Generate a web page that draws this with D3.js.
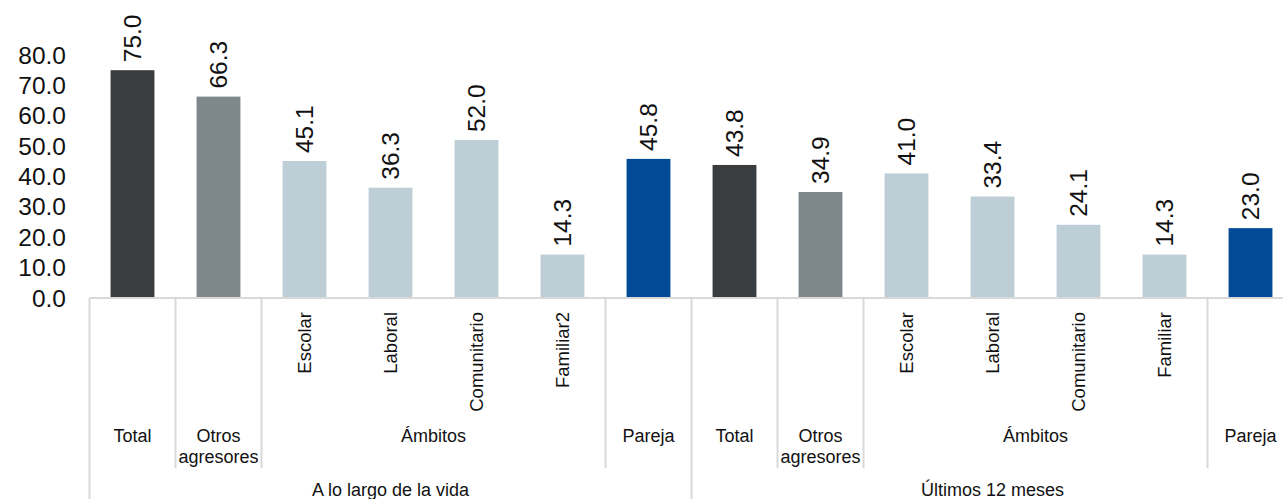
<!DOCTYPE html>
<html>
<head>
<meta charset="utf-8">
<script src="https://cdn.jsdelivr.net/npm/d3@7"></script>
<style>
  html, body { margin: 0; padding: 0; background: #fff; }
  svg { display: block; font-family: "Liberation Sans", Arial, sans-serif; }
</style>
</head>
<body>
<svg id="chart" width="1283" height="499"></svg>
<script>
// ---- data ----
const periods = ["A lo largo de la vida", "Últimos 12 meses"];
const categories = ["Total", "Otros agresores", "Escolar", "Laboral", "Comunitario", "Familiar2", "Pareja",
                    "Total", "Otros agresores", "Escolar", "Laboral", "Comunitario", "Familiar", "Pareja"];
const categoryKind = ["total","otros","ambito","ambito","ambito","ambito","pareja",
                      "total","otros","ambito","ambito","ambito","ambito","pareja"];
const values = [75.0, 66.3, 45.1, 36.3, 52.0, 14.3, 45.8, 43.8, 34.9, 41.0, 33.4, 24.1, 14.3, 23.0];
const yTicks = [0, 10, 20, 30, 40, 50, 60, 70, 80];
// sub-group labels (middle row): label, first index, last index
const midGroups = [
  {label: ["Total"], from: 0, to: 0},
  {label: ["Otros", "agresores"], from: 1, to: 1},
  {label: ["Ámbitos"], from: 2, to: 5},
  {label: ["Pareja"], from: 6, to: 6},
  {label: ["Total"], from: 7, to: 7},
  {label: ["Otros", "agresores"], from: 8, to: 8},
  {label: ["Ámbitos"], from: 9, to: 12},
  {label: ["Pareja"], from: 13, to: 13}
];
const colors = {total: "#3a3d40", otros: "#7e878c", ambito: "#bdced6", pareja: "#034b97"};

// ---- layout ----
const svg = d3.select("#chart");
const left = 89.5, step = 86;
const right = left + step * categories.length;
const baseY = 298, topY = 55;
const lineColor = "#d9d9d9";

const x = d3.scaleBand().domain(d3.range(categories.length)).range([left, right])
  .paddingInner(0.49).paddingOuter(0.245);
const y = d3.scaleLinear().domain([0, 80]).range([baseY, topY]);
const edge = i => left + step * i;

// y tick labels
svg.append("g").selectAll("text").data(yTicks).join("text")
  .attr("x", 66).attr("y", d => y(d)).attr("dy", "0.35em")
  .attr("text-anchor", "end").attr("font-size", 24.5).attr("fill", "#111")
  .text(d => d3.format(".1f")(d));

// bars
svg.append("g").selectAll("rect").data(values).join("rect")
  .attr("x", (d, i) => x(i)).attr("width", x.bandwidth())
  .attr("y", d => y(d)).attr("height", d => y(0) - y(d))
  .attr("fill", (d, i) => colors[categoryKind[i]]);

// value labels (rotated)
svg.append("g").selectAll("text").data(values).join("text")
  .attr("transform", (d, i) => `translate(${x(i) + x.bandwidth() / 2},${y(d) - 8}) rotate(-90)`)
  .attr("dy", "0.35em").attr("text-anchor", "start")
  .attr("font-size", 24.5).attr("fill", "#111")
  .text(d => d3.format(".1f")(d));

// baseline
svg.append("line").attr("x1", left).attr("x2", 1283).attr("y1", baseY).attr("y2", baseY)
  .attr("stroke", lineColor).attr("stroke-width", 2);

// separators
const midBounds = new Set();
midGroups.forEach(g => { midBounds.add(g.from); midBounds.add(g.to + 1); });
const periodBounds = [0, 7, 14];
const sep = svg.append("g").attr("stroke", lineColor).attr("stroke-width", 2);
[...midBounds].filter(b => !periodBounds.includes(b)).forEach(b => {
  sep.append("line").attr("x1", edge(b)).attr("x2", edge(b)).attr("y1", baseY).attr("y2", 468);
});
periodBounds.forEach(b => {
  sep.append("line").attr("x1", edge(b)).attr("x2", edge(b)).attr("y1", baseY).attr("y2", 499);
});

// rotated category labels for ámbitos
svg.append("g").selectAll("text")
  .data(categories.map((c, i) => ({c, i})).filter(d => categoryKind[d.i] === "ambito"))
  .join("text")
  .attr("transform", d => `translate(${x(d.i) + x.bandwidth() / 2},312) rotate(-90)`)
  .attr("dy", "0.35em").attr("text-anchor", "end")
  .attr("font-size", 18.5).attr("fill", "#111")
  .text(d => d.c);

// middle-row labels
const mid = svg.append("g").attr("font-size", 18).attr("fill", "#111").attr("text-anchor", "middle");
midGroups.forEach(g => {
  const cx = (edge(g.from) + edge(g.to + 1)) / 2;
  const t = mid.append("text").attr("x", cx).attr("y", 442);
  g.label.forEach((l, k) => t.append("tspan").attr("x", cx).attr("y", 442 + k * 21).text(l));
});

// period labels
svg.append("g").selectAll("text").data(periods).join("text")
  .attr("x", (d, i) => (edge(i * 7) + edge(i * 7 + 7)) / 2).attr("y", 496)
  .attr("text-anchor", "middle").attr("font-size", 18).attr("fill", "#111")
  .text(d => d);
</script>
</body>
</html>
